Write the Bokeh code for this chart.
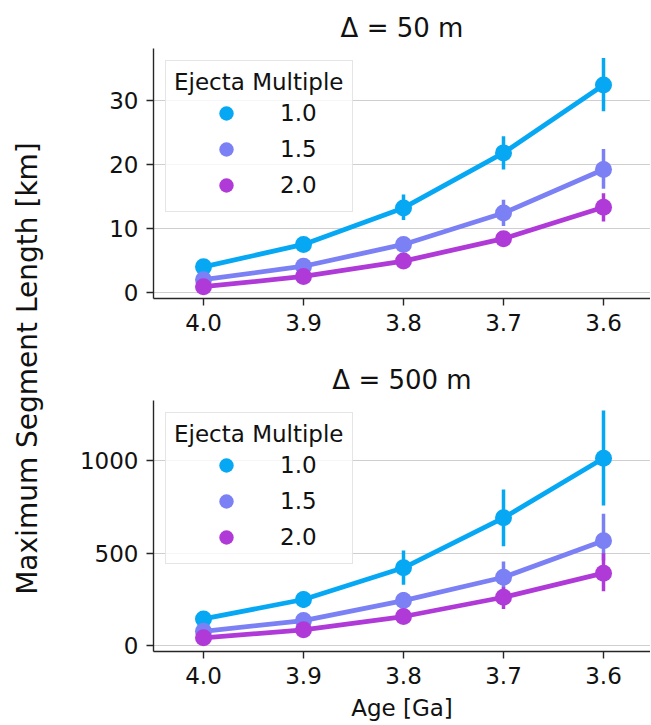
import math
from bokeh.plotting import figure
from bokeh.layouts import row, column
from bokeh.models import Range1d, FixedTicker, Legend, LegendItem, Label
from bokeh.embed import file_html
from bokeh.resources import INLINE

# ---------------- data ----------------
ages = ["4.0", "3.9", "3.8", "3.7", "3.6"]
multiples = ["1.0", "1.5", "2.0"]
colors = ["#06a8f4", "#7b80f4", "#b03ad8"]

# Delta = 50 m  (km)
mean_50 = {
    "1.0": [4.0, 7.5, 13.2, 21.8, 32.4],
    "1.5": [2.0, 4.1, 7.5, 12.4, 19.2],
    "2.0": [0.9, 2.5, 4.9, 8.4, 13.3],
}
lo_50 = {
    "1.0": [3.7, 7.0, 11.3, 19.2, 28.3],
    "1.5": [1.8, 3.7, 6.8, 10.4, 16.2],
    "2.0": [0.8, 2.2, 4.4, 7.5, 11.1],
}
hi_50 = {
    "1.0": [4.3, 8.1, 15.3, 24.4, 36.6],
    "1.5": [2.2, 4.5, 8.2, 14.5, 22.4],
    "2.0": [1.0, 2.8, 5.4, 9.3, 15.5],
}

# Delta = 500 m (km)
mean_500 = {
    "1.0": [144, 249, 420, 690, 1012],
    "1.5": [77, 135, 243, 369, 566],
    "2.0": [42, 85, 157, 261, 391],
}
lo_500 = {
    "1.0": [130, 205, 328, 537, 757],
    "1.5": [68, 118, 200, 306, 459],
    "2.0": [36, 74, 135, 198, 294],
}
hi_500 = {
    "1.0": [158, 292, 513, 843, 1270],
    "1.5": [86, 152, 290, 454, 712],
    "2.0": [48, 96, 180, 315, 499],
}

ticks_50 = [0, 10, 20, 30]
ticks_500 = [0, 500, 1000]

FONT = "DejaVu Sans"
BASE = "23px"
TXT = "#111111"
AX = "#262626"


def make_panel(title, means, los, his, yrange, yticks, top_border, frame_h, bottom_border, xlabel=None):
    idx = list(range(len(ages)))
    p = figure(
        frame_width=497, frame_height=frame_h,
        min_border_left=100, min_border_right=0,
        min_border_top=top_border, min_border_bottom=bottom_border,
        x_range=Range1d(-0.5, 4.47), y_range=Range1d(*yrange),
        output_backend="svg", toolbar_location=None, title=title,
    )
    p.title.text_font = FONT
    p.title.text_font_size = "26px"
    p.title.text_font_style = "normal"
    p.title.text_color = TXT
    p.title.align = "center"
    p.title.standoff = 12
    p.outline_line_color = None
    p.background_fill_color = "white"
    p.border_fill_color = "white"

    p.xgrid.grid_line_color = None
    p.ygrid.grid_line_color = "#cfcfcf"
    p.ygrid.grid_line_width = 1.2

    p.xaxis.ticker = FixedTicker(ticks=idx)
    p.xaxis.major_label_overrides = {i: a for i, a in zip(idx, ages)}
    p.yaxis.ticker = FixedTicker(ticks=yticks)
    for ax in (p.xaxis, p.yaxis):
        ax.axis_line_color = AX
        ax.axis_line_width = 1.4
        ax.major_tick_line_color = AX
        ax.major_tick_line_width = 1.4
        ax.major_tick_out = 7
        ax.major_tick_in = 0
        ax.minor_tick_line_color = None
        ax.major_label_text_font = FONT
        ax.major_label_text_font_size = BASE
        ax.major_label_text_color = TXT
        ax.major_label_standoff = 8
    if xlabel:
        p.xaxis.axis_label = xlabel
        p.xaxis.axis_label_text_font = FONT
        p.xaxis.axis_label_text_font_size = BASE
        p.xaxis.axis_label_text_font_style = "normal"
        p.xaxis.axis_label_text_color = TXT
        p.xaxis.axis_label_standoff = 8

    items = []
    for m, c in zip(multiples, colors):
        p.line(idx, means[m], line_color=c, line_width=4.8)
        p.segment(x0=idx, y0=los[m], x1=idx, y1=his[m], line_color=c, line_width=3.5)
        r = p.scatter(idx, means[m], size=17, fill_color=c, line_color=c, line_width=0)
        items.append(LegendItem(label=m, renderers=[r]))

    leg = Legend(items=items, location="top_left")
    leg.title = "Ejecta Multiple"
    leg.title_text_font = FONT
    leg.title_text_font_size = BASE
    leg.title_text_font_style = "normal"
    leg.title_text_color = TXT
    leg.title_standoff = 0
    leg.label_text_font = FONT
    leg.label_text_font_size = BASE
    leg.label_text_color = TXT
    leg.margin = 12
    leg.padding = 8
    leg.spacing = 0
    leg.glyph_width = 104
    leg.glyph_height = 36
    leg.label_height = 28
    leg.label_standoff = 2
    leg.border_line_color = "#cccccc"
    leg.border_line_width = 1.5
    leg.background_fill_color = "white"
    leg.background_fill_alpha = 0.8
    p.add_layout(leg, "center")
    return p


p1 = make_panel("Δ = 50 m", mean_50, lo_50, hi_50, (-0.94, 38.1), ticks_50, 48, 250, 57)
p2 = make_panel("Δ = 500 m", mean_500, lo_500, hi_500, (-32, 1324), ticks_500, 45, 251, 72,
                xlabel="Age [Ga]")

lab = figure(width=53, height=723, x_axis_type=None, y_axis_type=None,
             min_border=0, output_backend="svg", toolbar_location=None)
lab.outline_line_color = None
lab.add_layout(Label(x=27, y=355, x_units="screen", y_units="screen",
                     text="Maximum Segment Length [km]", angle=math.pi / 2,
                     text_align="center", text_baseline="middle",
                     text_font=FONT, text_font_size="28px", text_color=TXT))

layout = row(lab, column(p1, p2))
open("out.html", "w").write(file_html(layout, INLINE))
